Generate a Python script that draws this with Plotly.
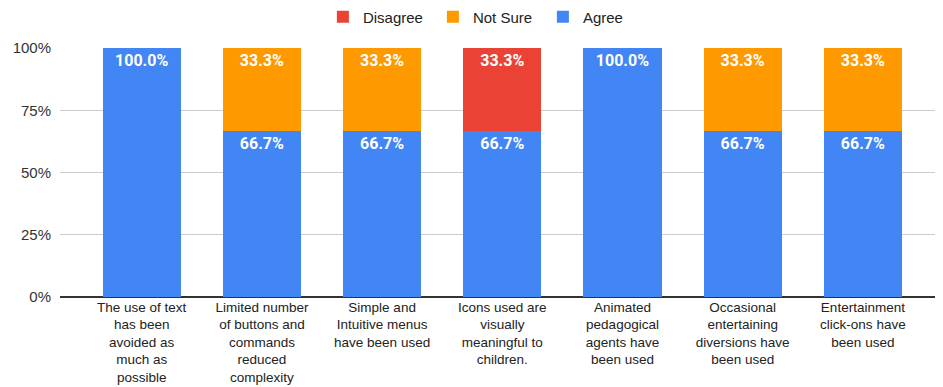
import plotly.graph_objects as go

categories = [
    "The use of text<br>has been<br>avoided as<br>much as<br>possible",
    "Limited number<br>of buttons and<br>commands<br>reduced<br>complexity",
    "Simple and<br>Intuitive menus<br>have been used",
    "Icons used are<br>visually<br>meaningful to<br>children.",
    "Animated<br>pedagogical<br>agents have<br>been used",
    "Occasional<br>entertaining<br>diversions have<br>been used",
    "Entertainment<br>click-ons have<br>been used",
]
agree = [100.0, 66.7, 66.7, 66.7, 100.0, 66.7, 66.7]
not_sure = [0, 33.3, 33.3, 0, 0, 33.3, 33.3]
disagree = [0, 0, 0, 33.3, 0, 0, 0]
y_ticks = [0, 25, 50, 75, 100]
y_tick_labels = ["0%", "25%", "50%", "75%", "100%"]

def labels(vals):
    return [f"{v:.1f}%" if v > 0 else "" for v in vals]

x = list(range(len(categories)))
fig = go.Figure()
for name, vals, color in [("Agree", agree, "#4285f4"),
                          ("Not Sure", not_sure, "#ff9900"),
                          ("Disagree", disagree, "#ea4335")]:
    fig.add_trace(go.Bar(
        x=x, y=vals, name=name, marker=dict(color=color, line=dict(width=0)),
        text=labels(vals), textposition="inside", insidetextanchor="end",
        textangle=0, cliponaxis=False,
        textfont=dict(family="Roboto", size=16, color="white", weight="bold"),
        hoverinfo="skip",
    ))

fig.update_layout(
    barmode="stack", bargap=0.35,
    width=935, height=379,
    margin=dict(l=52, r=8, t=40, b=90, autoexpand=False),
    paper_bgcolor="white", plot_bgcolor="white",
    font=dict(family="Arial", size=14, color="#222"),
    uniformtext=dict(minsize=16, mode="show"),
    legend=dict(orientation="h", x=0.489, xanchor="center", y=1.1245, yanchor="middle",
                traceorder="reversed", font=dict(size=15, color="#222"),
                itemwidth=30, entrywidthmode="pixels", entrywidth=65),
    showlegend=True,
)
fig.update_xaxes(
    tickmode="array", tickvals=x, ticktext=categories,
    range=[-0.68, 6.6], showgrid=False, showline=False, ticks="",
    tickangle=0, tickfont=dict(size=13.5, color="#222"), ticklabelstandoff=0,
)
fig.update_yaxes(
    range=[0, 100], tickvals=y_ticks, ticktext=y_tick_labels,
    showgrid=True, gridcolor="#cccccc", gridwidth=1,
    zeroline=True, zerolinecolor="#333", zerolinewidth=2,
    ticks="", tickfont=dict(size=15, color="#333"), ticklabelstandoff=8,
)
fig.write_html("out.html")
